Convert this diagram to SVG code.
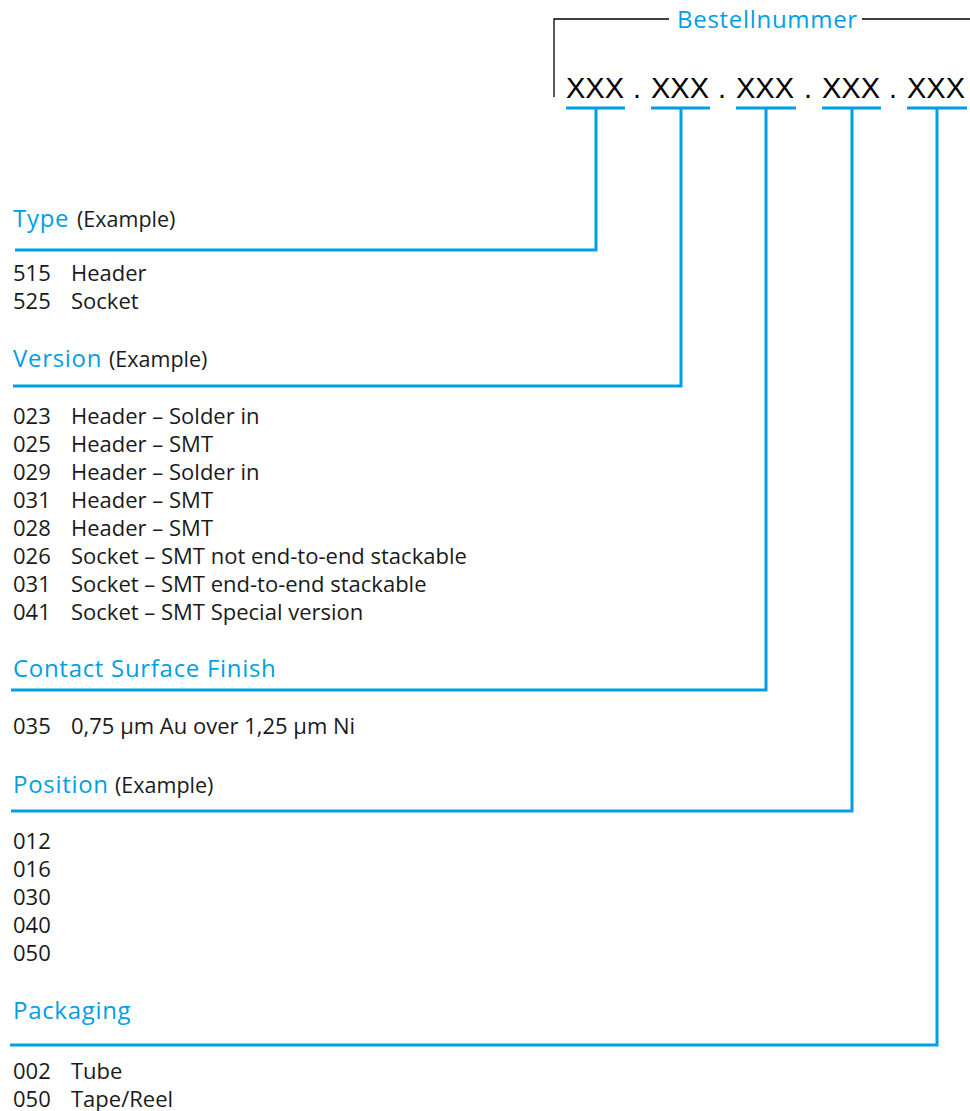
<svg xmlns="http://www.w3.org/2000/svg" width="970" height="1111" viewBox="0 0 970 1111">
<style>
.h{font-family:"Open Sans","Liberation Sans",sans-serif;font-size:24px;letter-spacing:0.7px;fill:#009fe3}
.e{font-family:"Open Sans","Liberation Sans",sans-serif;font-size:21.5px;fill:#1a1a1a}
.t{font-family:"Open Sans","Liberation Sans",sans-serif;font-size:22px;fill:#1a1a1a}
.x{font-family:"Liberation Sans",Arial,sans-serif;font-size:29px;fill:#000}
.c{fill:none;stroke:#009fe3;stroke-width:3}
.b{fill:none;stroke:#000;stroke-width:1.3}
</style>
<rect width="970" height="1111" fill="#fff"/>
<g id="header">
<polyline class="b" points="554,97 554,19 669,19"/>
<line class="b" x1="862" y1="19" x2="970" y2="19"/>
<text class="h" x="677" y="28">Bestellnummer</text>
<text class="x" x="566" y="98">XXX</text>
<text class="x" x="633" y="98">.</text>
<text class="x" x="651" y="98">XXX</text>
<text class="x" x="718" y="98">.</text>
<text class="x" x="736" y="98">XXX</text>
<text class="x" x="804" y="98">.</text>
<text class="x" x="822" y="98">XXX</text>
<text class="x" x="889" y="98">.</text>
<text class="x" x="907" y="98">XXX</text>
</g>
<g id="connectors">
<line class="c" x1="566" y1="108" x2="625" y2="108"/>
<line class="c" x1="651" y1="108" x2="710" y2="108"/>
<line class="c" x1="736" y1="108" x2="796" y2="108"/>
<line class="c" x1="822" y1="108" x2="881" y2="108"/>
<line class="c" x1="907" y1="108" x2="967" y2="108"/>
<polyline class="c" points="596,108 596,250 15,250"/>
<polyline class="c" points="681,108 681,386 13,386"/>
<polyline class="c" points="766,108 766,690 11,690"/>
<polyline class="c" points="852,108 852,811 11,811"/>
<polyline class="c" points="937,108 937,1045 10,1045"/>
</g>
<g id="type">
<text class="h" x="13" y="227">Type</text><text class="e" x="77" y="227">(Example)</text>
<text class="t" x="13" y="281">515</text><text class="t" x="71" y="281">Header</text>
<text class="t" x="13" y="309">525</text><text class="t" x="71" y="309">Socket</text>
</g>
<g id="version">
<text class="h" x="13" y="367">Version</text><text class="e" x="109" y="367">(Example)</text>
<text class="t" x="13" y="424">023</text><text class="t" x="71" y="424">Header – Solder in</text>
<text class="t" x="13" y="452">025</text><text class="t" x="71" y="452">Header – SMT</text>
<text class="t" x="13" y="480">029</text><text class="t" x="71" y="480">Header – Solder in</text>
<text class="t" x="13" y="508">031</text><text class="t" x="71" y="508">Header – SMT</text>
<text class="t" x="13" y="536">028</text><text class="t" x="71" y="536">Header – SMT</text>
<text class="t" x="13" y="564">026</text><text class="t" x="71" y="564">Socket – SMT not end-to-end stackable</text>
<text class="t" x="13" y="592">031</text><text class="t" x="71" y="592">Socket – SMT end-to-end stackable</text>
<text class="t" x="13" y="620">041</text><text class="t" x="71" y="620">Socket – SMT Special version</text>
</g>
<g id="finish">
<text class="h" x="13" y="677">Contact Surface Finish</text>
<text class="t" x="13" y="734">035</text><text class="t" x="71" y="734">0,75 µm Au over 1,25 µm Ni</text>
</g>
<g id="position">
<text class="h" x="13" y="793">Position</text><text class="e" x="115" y="793">(Example)</text>
<text class="t" x="13" y="849">012</text>
<text class="t" x="13" y="877">016</text>
<text class="t" x="13" y="905">030</text>
<text class="t" x="13" y="933">040</text>
<text class="t" x="13" y="961">050</text>
</g>
<g id="packaging">
<text class="h" x="13" y="1019">Packaging</text>
<text class="t" x="13" y="1079">002</text><text class="t" x="71" y="1079">Tube</text>
<text class="t" x="13" y="1107">050</text><text class="t" x="71" y="1107">Tape/Reel</text>
</g>
</svg>
